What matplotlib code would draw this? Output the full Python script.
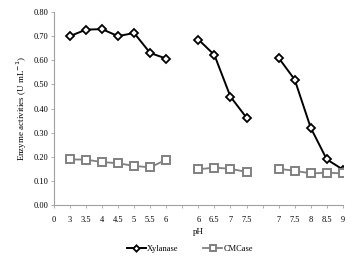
import numpy as np
import matplotlib.pyplot as plt

plt.rcParams['font.family'] = ['Liberation Serif', 'DejaVu Serif']

# category labels along the x axis (Excel-style line chart with gaps)
ph_labels = ['0', '3', '3.5', '4', '4.5', '5', '5.5', '6', '',
             '6', '6.5', '7', '7.5', '', '7', '7.5', '8', '8.5', '9']

nan = np.nan
xylanase = [nan, 0.700, 0.727, 0.729, 0.700, 0.713, 0.630, 0.607, nan,
            0.686, 0.622, 0.449, 0.362, nan, 0.610, 0.520, 0.320, 0.189, 0.147]
cmcase = [nan, 0.189, 0.188, 0.178, 0.173, 0.162, 0.156, 0.188, nan,
          0.148, 0.155, 0.150, 0.137, nan, 0.150, 0.142, 0.131, 0.134, 0.131]

x = np.arange(len(ph_labels))

fig = plt.figure(figsize=(3.59, 2.64), dpi=100)
ax = fig.add_axes([0.150, 0.2235, 0.805, 0.731])

ax.plot(x, xylanase, color='black', lw=1.4, marker='D', ms=4,
        mfc='white', mec='black', mew=1.3, label='Xylanase', zorder=3)
ax.plot(x, cmcase, color='#808080', lw=1.3, marker='s', ms=5.2,
        mfc='white', mec='#808080', mew=1.4, label='CMCase', zorder=3)

ax.set_xlim(0, len(ph_labels) - 1)
ax.set_ylim(0, 0.8)
ax.set_xticks(x)
ax.set_xticklabels(ph_labels)
ax.set_yticks(np.arange(0, 0.81, 0.1))
ax.set_yticklabels(['%.2f' % v for v in np.arange(0, 0.81, 0.1)])

for s in ['top', 'right']:
    ax.spines[s].set_visible(False)
for s in ['left', 'bottom']:
    ax.spines[s].set_color('#a0a0a0')
    ax.spines[s].set_linewidth(0.8)
ax.tick_params(axis='both', labelsize=6, colors='#a0a0a0', labelcolor='black',
               length=2, width=0.6, pad=2)
ax.tick_params(axis='x', pad=6)

ax.set_xlabel('pH', fontsize=6.5, labelpad=3)
ax.set_ylabel('Enzyme activities (U mL$^{-1}$)', fontsize=6.5, labelpad=3)

ax.legend(loc='upper center', bbox_to_anchor=(0.47, -0.17), ncol=2,
          frameon=False, fontsize=6, handlelength=2.3, columnspacing=3,
          handletextpad=0.1, markerscale=0.8)

fig.savefig('out.png', dpi=100)
